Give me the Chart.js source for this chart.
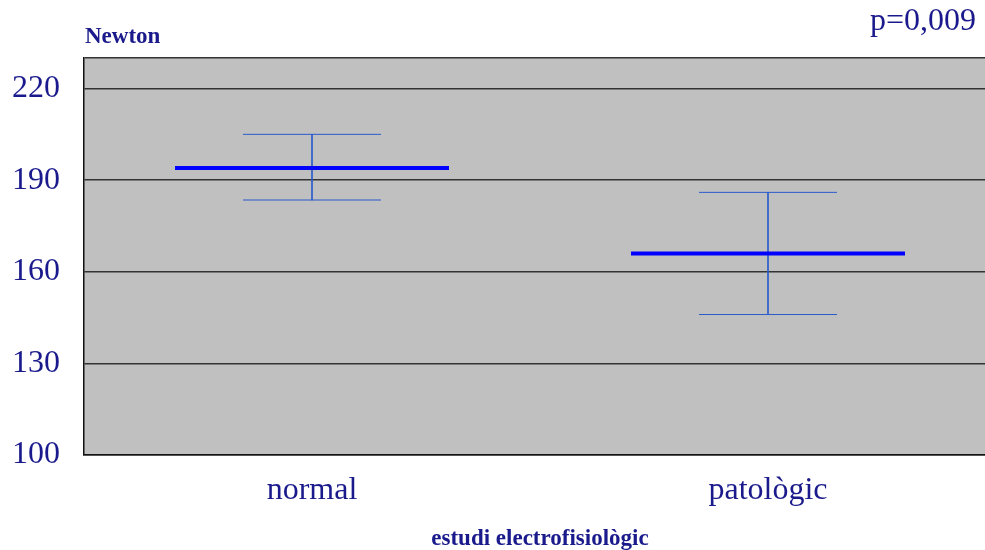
<!DOCTYPE html>
<html>
<head>
<meta charset="utf-8">
<script src="https://cdn.jsdelivr.net/npm/chart.js@4/dist/chart.umd.min.js"></script>
<style>
  html, body { margin:0; padding:0; background:#fff; overflow:hidden; }
  #wrap { width:1000px; height:550px; }
</style>
</head>
<body>
<div id="wrap"><canvas id="chart" width="1000" height="550"></canvas></div>
<script>
// values (Newton)
var groups = ['normal', 'patològic'];
var means  = [194, 166];
var upper  = [205, 186];
var lower  = [183.5, 146];
var yTicks = [100, 130, 160, 190, 220, 230];

var navy = '#1a1a8c';
var serif = '"Liberation Serif", serif';
var color = {
    mean: '#0000ff',
    err: '#2a5acb',
    grid: '#333333',
    plot: '#c0c0c0'
};

// grey plot background + the two loose labels
var extras = {
    id: 'extras',
    beforeDraw: function(c){
        var a = c.chartArea, ctx = c.ctx;
        ctx.save();
        ctx.fillStyle = color.plot;
        ctx.fillRect(a.left, a.top, a.right - a.left, a.bottom - a.top);
        ctx.restore();
    },
    afterDraw: function(c){
        var a = c.chartArea, ctx = c.ctx;
        ctx.save();
        ctx.fillStyle = navy;
        ctx.textBaseline = 'middle';
        ctx.font = 'bold 23px ' + serif;
        ctx.textAlign = 'left';
        ctx.fillText('Newton', a.left + 1, 37);
        ctx.font = '32px ' + serif;
        ctx.textAlign = 'right';
        ctx.fillText('p=0,009', 976, 22);
        ctx.restore();
    }
};

var ctx = document.getElementById('chart').getContext('2d');
var chart = new Chart(ctx, {
    type: 'bar',
    data: {
        labels: groups,
        datasets: [
            {
                type: 'line',
                label: 'mean',
                data: means,
                showLine: false,
                pointStyle: 'line',
                pointRadius: 137,
                pointHoverRadius: 137,
                pointBorderWidth: 4,
                pointBorderColor: color.mean,
                order: 0
            },
            {
                type: 'line',
                label: 'upper',
                data: upper,
                showLine: false,
                pointStyle: 'line',
                pointRadius: 69,
                pointBorderWidth: 1,
                pointBorderColor: color.err,
                order: 1
            },
            {
                type: 'line',
                label: 'lower',
                data: lower,
                showLine: false,
                pointStyle: 'line',
                pointRadius: 69,
                pointBorderWidth: 1,
                pointBorderColor: color.err,
                order: 1
            },
            {
                label: 'range',
                data: groups.map(function(g, i){ return [lower[i], upper[i]]; }),
                backgroundColor: color.err,
                barThickness: 1,
                order: 2
            }
        ]
    },
    options: {
        responsive: false,
        animation: false,
        layout: { autoPadding: false, padding: { top: 58, left: 12, right: 4, bottom: 0 } },
        plugins: {
            legend: { display: false },
            tooltip: { enabled: false }
        },
        scales: {
            x: {
                afterFit: function(s){ s.height = 95; },
                grid: { display: false },
                border: { display: true, color: '#111', width: 1.5 },
                ticks: {
                    color: navy,
                    padding: 8,
                    font: { family: serif, size: 32 }
                },
                title: {
                    display: true,
                    text: 'estudi electrofisiològic',
                    color: navy,
                    padding: { top: 10, bottom: -3 },
                    font: { family: serif, size: 23, weight: 'bold' }
                }
            },
            y: {
                min: 100,
                max: 230,
                afterFit: function(s){ s.width = 72; },
                afterBuildTicks: function(s){
                    s.ticks = yTicks.map(function(v){ return { value: v }; });
                },
                grid: { color: color.grid, lineWidth: 1.5, drawTicks: false },
                border: { display: true, color: '#111', width: 1.5 },
                ticks: {
                    color: navy,
                    padding: 24,
                    font: { family: serif, size: 32 },
                    callback: function(v){ return v === 230 ? '' : v; }
                }
            }
        }
    },
    plugins: [extras]
});
</script>
</body>
</html>
